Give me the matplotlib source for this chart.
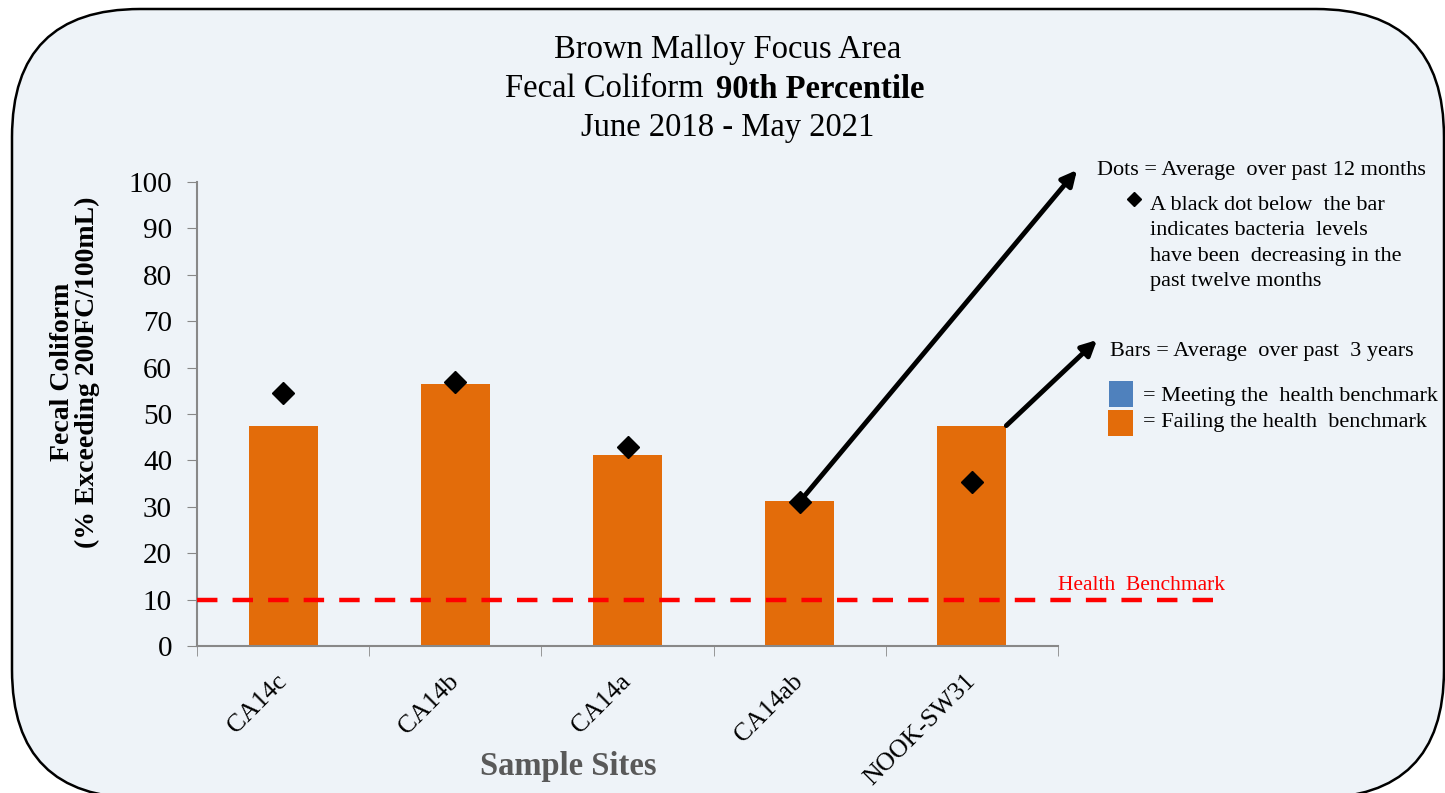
import matplotlib
matplotlib.use('Agg')
import matplotlib.pyplot as plt
from matplotlib.patches import FancyBboxPatch, Rectangle
from matplotlib.lines import Line2D

# data
sites = ['CA14c', 'CA14b', 'CA14a', 'CA14ab', 'NOOK-SW31']
bars_3yr = [47.5, 56.4, 41.2, 31.2, 47.5]
dots_12mo = [54.5, 57.0, 42.9, 31.1, 35.4]
benchmark = 10
yticks = list(range(0, 101, 10))

W, H = 1445, 793
ORANGE = '#E36C0A'
BLUE = '#4F81BD'
BG = '#EEF3F8'
SERIF = 'Liberation Serif'

plt.rcParams['font.family'] = SERIF

fig = plt.figure(figsize=(W / 100, H / 100), dpi=100)
fig.patch.set_facecolor('white')

# background rounded panel, drawn in pixel units
bg = fig.add_axes([0, 0, 1, 1], zorder=0)
bg.set_xlim(0, W)
bg.set_ylim(H, 0)
bg.axis('off')
bg.add_patch(FancyBboxPatch((12, 9), 1444 - 12, 798 - 9,
                            boxstyle='round,pad=0,rounding_size=128',
                            facecolor=BG, edgecolor='black', lw=1.8, clip_on=False))


def fx(px):
    return px / W


def fy(py):
    return 1 - py / H


# main axes
ax = fig.add_axes([fx(197), fy(646), fx(1058) - fx(197), fy(182) - fy(646)], zorder=1)
ax.set_facecolor('none')
x = list(range(len(sites)))
ax.bar(x, bars_3yr, width=0.4, color=ORANGE, zorder=2)
ax.plot(x, dots_12mo, linestyle='none', marker='D', ms=11, color='black', zorder=4)
ax.plot([-0.5, 5.42], [benchmark, benchmark], color='red', lw=3.2,
        dashes=(4.6, 3.4), clip_on=False, zorder=3)
ax.text(4.5, benchmark + 1.0, 'Health  Benchmark', color='red', fontsize=15.5,
        ha='left', va='bottom')

ax.set_xlim(-0.5, 4.5)
ax.set_ylim(0, 100)
ax.set_yticks(yticks)
ax.tick_params(axis='y', labelsize=21, length=7, color='#888888', pad=11)
ax.set_xticks(x)
ax.set_xticklabels(sites, rotation=45, ha='right', va='center', rotation_mode='anchor',
                   fontsize=18.5)
ax.tick_params(axis='x', length=0, pad=23)
ax.set_xticks([i - 0.5 for i in range(len(sites) + 1)], minor=True)
ax.tick_params(axis='x', which='minor', length=7, color='#888888')
for s in ['top', 'right']:
    ax.spines[s].set_visible(False)
for s in ['left', 'bottom']:
    ax.spines[s].set_color('#888888')
    ax.spines[s].set_linewidth(1.5)

ax.set_ylabel('Fecal Coliform\n(% Exceeding 200FC/100mL)', fontsize=20,
              fontweight='bold', linespacing=1.0)
ax.yaxis.set_label_coords(-0.113, 0.59)
fig.text(fx(568), fy(767), 'Sample Sites', fontsize=23.5, fontweight='bold',
         color='#595959', ha='center', va='center')

# title
tfs = 23.5
fig.text(fx(728), fy(50), 'Brown Malloy Focus Area', fontsize=tfs, ha='center', va='center')
fig.text(fx(712), fy(89), 'Fecal Coliform ', fontsize=tfs, ha='right', va='center')
fig.text(fx(716), fy(89), '90th Percentile', fontsize=tfs, fontweight='bold',
         ha='left', va='center')
fig.text(fx(728), fy(128), 'June 2018 - May 2021', fontsize=tfs, ha='center', va='center')

# annotation arrows
arrow = dict(arrowstyle='-|>,head_length=0.9,head_width=0.45', color='black', lw=3.5,
             shrinkA=0, shrinkB=0)
ax.annotate('', xy=(fx(1077), fy(170)), xycoords='figure fraction',
            xytext=(3, dots_12mo[3]), textcoords='data', arrowprops=arrow, zorder=5)
ax.annotate('', xy=(fx(1097), fy(340)), xycoords='figure fraction',
            xytext=(4.2, bars_3yr[4]), textcoords='data', arrowprops=arrow, zorder=5)

# legend notes
fs = 16
fig.text(fx(1097), fy(171), 'Dots = Average  over past 12 months', fontsize=fs,
         ha='left', va='center')
fig.add_artist(Line2D([fx(1134)], [fy(199)], marker='D', ms=7, color='black',
                      transform=fig.transFigure))
notes = ['A black dot below  the bar', 'indicates bacteria  levels',
         'have been  decreasing in the', 'past twelve months']
for i, t in enumerate(notes):
    fig.text(fx(1150), fy(205 + 25.6 * i), t, fontsize=fs, ha='left', va='center')
fig.text(fx(1110), fy(351), 'Bars = Average  over past  3 years', fontsize=fs,
         ha='left', va='center')
fig.add_artist(Rectangle((fx(1109), fy(407)), fx(24), 26 / H, facecolor=BLUE,
                         transform=fig.transFigure))
fig.add_artist(Rectangle((fx(1108), fy(436)), fx(25), 26 / H, facecolor=ORANGE,
                         transform=fig.transFigure))
fig.text(fx(1143), fy(397), '= Meeting the  health benchmark', fontsize=fs,
         ha='left', va='center')
fig.text(fx(1143), fy(422), '= Failing the health  benchmark', fontsize=fs,
         ha='left', va='center')

fig.savefig('out.png', dpi=100)
